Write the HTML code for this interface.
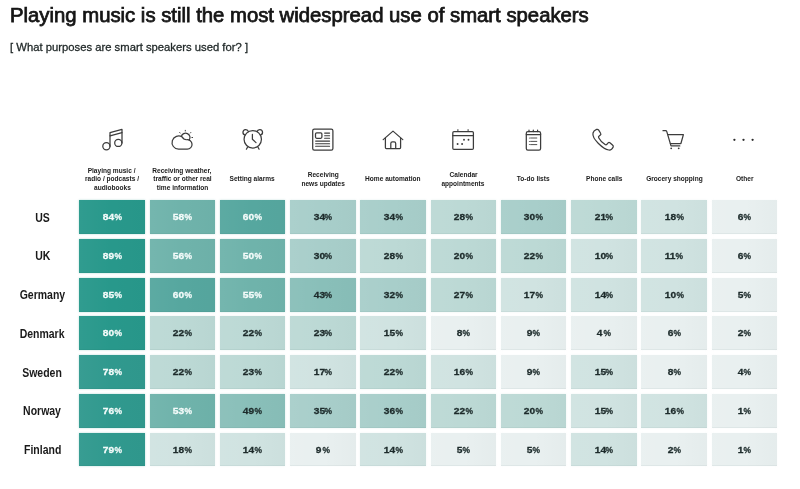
<!DOCTYPE html>
<html><head><meta charset="utf-8"><title>Smart speakers</title>
<style>
html,body{margin:0;padding:0;background:#fff;}
body{will-change:transform;width:800px;height:489px;position:relative;overflow:hidden;font-family:"Liberation Sans",sans-serif;color:#1a1a1a;}
.t{position:absolute;white-space:nowrap;transform-origin:0 0;}
#title{left:10.2px;top:3.2px;font-size:19.5px;font-weight:normal;-webkit-text-stroke:0.75px #151515;line-height:24px;color:#151515;transform:scaleX(1.041);}
#sub{left:9.8px;top:39.6px;font-size:11.5px;line-height:14px;color:#1e2626;-webkit-text-stroke:0.3px #1e2626;transform:scaleX(0.98);}
.c{position:absolute;width:65.50px;height:33.90px;background-image:linear-gradient(90deg,rgba(255,255,255,0.04),rgba(255,255,255,0) 50%,rgba(0,40,40,0.018));}
.c:after{content:'';position:absolute;left:0;right:0;bottom:0;height:1px;background:rgba(0,40,40,0.045);}
.v{position:absolute;left:1.0px;right:0;top:0;bottom:0;text-align:center;font-weight:bold;font-size:9.7px;line-height:34.10px;color:#1d2b2b;}
.v span{display:inline-block;transform:scaleX(1.05);-webkit-text-stroke:0.3px currentColor;}
.v span.p{transform:scaleX(0.87);margin-left:-0.1px;}
.w .v{color:#f4fbfa;}
.r{position:absolute;left:0;width:85px;text-align:center;font-weight:bold;font-size:12.2px;line-height:14px;color:#1a1a1a;}
.r span{display:inline-block;transform:scaleX(0.86);}
.l{position:absolute;width:90px;text-align:center;font-weight:bold;font-size:7.3px;line-height:8.5px;color:#202020;}
.l span{display:inline-block;transform:scaleX(0.9);white-space:nowrap;}
svg{position:absolute;left:0;top:0;}
</style></head><body>
<div class="t" id="title">Playing music is still the most widespread use of smart speakers</div>
<div class="t" id="sub">[ What purposes are smart speakers used for? ]</div>
<svg width="800" height="489" viewBox="0 0 800 489" fill="none" stroke="#3c3c3c" stroke-width="1.25" stroke-linecap="round" stroke-linejoin="round">
<!-- music -->
<g>
<circle cx="106.4" cy="146.3" r="3.6"/>
<circle cx="118.3" cy="142.9" r="3.6"/>
<path d="M110 146.3V132.7L122 129.4V142.9"/>
<path d="M110 135.9L122 132.6"/>
</g>
<!-- weather -->
<g>
<path d="M178.6 149.2A6.6 6.6 0 1 1 182.3 137.1Q183.3 139.6 186.6 139.75A4.75 4.75 0 1 1 187.3 149.2Z"/>
<path d="M181.32 136.59A4.4 4.4 0 1 1 189.19 140.14"/>
<path d="M179.7 132.5l0.4 0.5M185.3 130.3v0.7M190.8 132.5l-0.4 0.5M192.6 137.5h-0.7" stroke-width="1"/>
</g>
<!-- alarm -->
<g>
<circle cx="252.75" cy="139.3" r="8.7"/>
<path d="M245.2 135.0A2.75 2.75 0 1 1 248.4 131.7M260.3 135.0A2.75 2.75 0 1 0 257.1 131.7"/>
<path d="M252.4 134.4v4.9l3.6 3.3"/>
<path d="M247.5 147.2l-1.1 2M258 147.2l1.1 2"/>
</g>
<!-- news -->
<g>
<rect x="312.7" y="129.2" width="20.2" height="21" rx="1.6"/>
<rect x="315.5" y="132.9" width="6.4" height="5.4" rx="1.2"/>
<path d="M324.6 133.1h5M324.6 135.7h5M324.6 138.3h5M315.6 141.1h14M315.6 143.7h14M315.6 146.3h14" stroke-width="1.05"/>
</g>
<!-- home -->
<g>
<path d="M383.2 139.6L393 131.1L402.8 139.6"/>
<path d="M385.4 138v9.6a0.9 0.9 0 0 0 0.9 0.9h13.4a0.9 0.9 0 0 0 0.9-0.9V138"/>
<path d="M390.8 148.4v-5a1.6 1.6 0 0 1 1.6-1.6h1.7a1.6 1.6 0 0 1 1.6 1.6v5"/>
</g>
<!-- calendar -->
<g>
<rect x="452.8" y="131.5" width="20.6" height="17.9" rx="1.2"/>
<path d="M452.8 135.6h20.6"/>
<path d="M457.9 129.6v1.9M468.1 129.6v1.9" stroke-width="1"/>
<g fill="#3a3a3a" stroke="none"><circle cx="464" cy="139.7" r="0.95"/><circle cx="468.5" cy="139.7" r="0.95"/><circle cx="457.6" cy="144" r="0.95"/><circle cx="462.1" cy="144" r="0.95"/></g>
</g>
<!-- todo -->
<g>
<rect x="526.3" y="131.6" width="14.3" height="18.4" rx="1.6"/>
<path d="M526.3 134.5h14.3"/>
<path d="M529 130v1.6M533.3 130v1.6M537.6 130v1.6" stroke-width="1.2"/>
<path d="M530.6 138h6.2M530.6 141.4h6.2M530.6 144.6h6.2" stroke-width="0.9"/>
<g fill="#3a3a3a" stroke="none"><circle cx="529.4" cy="138" r="0.5"/><circle cx="529.4" cy="141.4" r="0.5"/><circle cx="529.4" cy="144.6" r="0.5"/></g>
</g>
<!-- phone -->
<g>
<path d="M596.6 129.4c-1.2 0.5-3.2 1.9-3.6 3.6c-0.5 2.2 1.2 6.2 5.2 10.2c4 4 8 6.4 10.600 6.800c1.9 0.300 3.700-1.500 4.400-3.000c0.400-0.900-0.100-1.500-0.700-2.000l-2.600-2.200c-0.600-0.500-1.300-0.400-1.800 0.100l-1.200 1.400c-0.500 0.500-1.200 0.600-1.800 0.200c-2.200-1.400-5.200-4.400-6.400-6.800c-0.300-0.600-0.200-1.300 0.400-1.700l1.300-1.000c0.500-0.400 0.600-1.100 0.200-1.700l-1.900-3.200c-0.500-0.700-1.300-1.000-2.100-0.700z"/>
</g>
<!-- cart -->
<g>
<path d="M663 130.700h2.600c0.600 0 1 0.300 1.200 0.900l4.200 14.300h8.800"/>
<path d="M667.900 134.700h15.500l-2.500 8.800h-10.500"/>
<g fill="#3a3a3a" stroke="none"><circle cx="671.2" cy="148.300" r="0.9"/><circle cx="678.7" cy="148.300" r="0.9"/></g>
</g>
<!-- other -->
<g fill="#2a2a2a" stroke="none"><circle cx="734.4" cy="139.800" r="1.15"/><circle cx="743.5" cy="139.800" r="1.15"/><circle cx="752.6" cy="139.800" r="1.15"/></g>
</svg>
<div class="l" style="left:67.05px;top:166.55px;line-height:8.5px"><span>Playing music /</span><br><span>radio / podcasts /</span><br><span>audiobooks</span></div>
<div class="l" style="left:137.30px;top:166.55px;line-height:8.5px"><span>Receiving weather,</span><br><span>traffic or other real</span><br><span>time information</span></div>
<div class="l" style="left:207.55px;top:175.05px;line-height:8.5px"><span>Setting alarms</span></div>
<div class="l" style="left:277.80px;top:170.30px;line-height:9.0px"><span>Receiving</span><br><span>news updates</span></div>
<div class="l" style="left:348.05px;top:175.05px;line-height:8.5px"><span>Home automation</span></div>
<div class="l" style="left:418.30px;top:170.30px;line-height:9.0px"><span>Calendar</span><br><span>appointments</span></div>
<div class="l" style="left:488.55px;top:175.05px;line-height:8.5px"><span>To-do lists</span></div>
<div class="l" style="left:558.80px;top:175.05px;line-height:8.5px"><span>Phone calls</span></div>
<div class="l" style="left:629.05px;top:175.05px;line-height:8.5px"><span>Grocery shopping</span></div>
<div class="l" style="left:699.30px;top:175.05px;line-height:8.5px"><span>Other</span></div>
<div class="r" style="top:210.60px"><span>US</span></div>
<div class="c w" style="left:79.30px;top:200.15px;background-color:rgb(40,152,139);box-shadow:0 0 2px rgba(40,152,139,0.35)"><div class="v"><span>84</span><span class="p">%</span></div></div>
<div class="c w" style="left:149.55px;top:200.15px;background-color:rgb(111,179,171);box-shadow:0 0 2px rgba(111,179,171,0.35)"><div class="v"><span>58</span><span class="p">%</span></div></div>
<div class="c w" style="left:219.80px;top:200.15px;background-color:rgb(86,167,159);box-shadow:0 0 2px rgba(86,167,159,0.35)"><div class="v"><span>60</span><span class="p">%</span></div></div>
<div class="c" style="left:290.05px;top:200.15px;background-color:rgb(168,206,202);box-shadow:0 0 2px rgba(168,206,202,0.35)"><div class="v"><span>34</span><span class="p">%</span></div></div>
<div class="c" style="left:360.30px;top:200.15px;background-color:rgb(168,206,202);box-shadow:0 0 2px rgba(168,206,202,0.35)"><div class="v"><span>34</span><span class="p">%</span></div></div>
<div class="c" style="left:430.55px;top:200.15px;background-color:rgb(188,217,213);box-shadow:0 0 2px rgba(188,217,213,0.35)"><div class="v"><span>28</span><span class="p">%</span></div></div>
<div class="c" style="left:500.80px;top:200.15px;background-color:rgb(168,206,202);box-shadow:0 0 2px rgba(168,206,202,0.35)"><div class="v"><span>30</span><span class="p">%</span></div></div>
<div class="c" style="left:571.05px;top:200.15px;background-color:rgb(188,217,213);box-shadow:0 0 2px rgba(188,217,213,0.35)"><div class="v"><span>21</span><span class="p">%</span></div></div>
<div class="c" style="left:641.30px;top:200.15px;background-color:rgb(208,227,225);box-shadow:0 0 2px rgba(208,227,225,0.35)"><div class="v"><span>18</span><span class="p">%</span></div></div>
<div class="c" style="left:711.55px;top:200.15px;background-color:rgb(233,240,240);box-shadow:0 0 2px rgba(233,240,240,0.35)"><div class="v"><span>6</span><span class="p">%</span></div></div>
<div class="r" style="top:249.33px"><span>UK</span></div>
<div class="c w" style="left:79.30px;top:238.88px;background-color:rgb(40,152,139);box-shadow:0 0 2px rgba(40,152,139,0.35)"><div class="v"><span>89</span><span class="p">%</span></div></div>
<div class="c w" style="left:149.55px;top:238.88px;background-color:rgb(111,179,171);box-shadow:0 0 2px rgba(111,179,171,0.35)"><div class="v"><span>56</span><span class="p">%</span></div></div>
<div class="c w" style="left:219.80px;top:238.88px;background-color:rgb(111,179,171);box-shadow:0 0 2px rgba(111,179,171,0.35)"><div class="v"><span>50</span><span class="p">%</span></div></div>
<div class="c" style="left:290.05px;top:238.88px;background-color:rgb(168,206,202);box-shadow:0 0 2px rgba(168,206,202,0.35)"><div class="v"><span>30</span><span class="p">%</span></div></div>
<div class="c" style="left:360.30px;top:238.88px;background-color:rgb(188,217,213);box-shadow:0 0 2px rgba(188,217,213,0.35)"><div class="v"><span>28</span><span class="p">%</span></div></div>
<div class="c" style="left:430.55px;top:238.88px;background-color:rgb(188,217,213);box-shadow:0 0 2px rgba(188,217,213,0.35)"><div class="v"><span>20</span><span class="p">%</span></div></div>
<div class="c" style="left:500.80px;top:238.88px;background-color:rgb(188,217,213);box-shadow:0 0 2px rgba(188,217,213,0.35)"><div class="v"><span>22</span><span class="p">%</span></div></div>
<div class="c" style="left:571.05px;top:238.88px;background-color:rgb(208,227,225);box-shadow:0 0 2px rgba(208,227,225,0.35)"><div class="v"><span>10</span><span class="p">%</span></div></div>
<div class="c" style="left:641.30px;top:238.88px;background-color:rgb(208,227,225);box-shadow:0 0 2px rgba(208,227,225,0.35)"><div class="v"><span>11</span><span class="p">%</span></div></div>
<div class="c" style="left:711.55px;top:238.88px;background-color:rgb(233,240,240);box-shadow:0 0 2px rgba(233,240,240,0.35)"><div class="v"><span>6</span><span class="p">%</span></div></div>
<div class="r" style="top:288.06px"><span>Germany</span></div>
<div class="c w" style="left:79.30px;top:277.61px;background-color:rgb(40,152,139);box-shadow:0 0 2px rgba(40,152,139,0.35)"><div class="v"><span>85</span><span class="p">%</span></div></div>
<div class="c w" style="left:149.55px;top:277.61px;background-color:rgb(86,167,159);box-shadow:0 0 2px rgba(86,167,159,0.35)"><div class="v"><span>60</span><span class="p">%</span></div></div>
<div class="c w" style="left:219.80px;top:277.61px;background-color:rgb(111,179,171);box-shadow:0 0 2px rgba(111,179,171,0.35)"><div class="v"><span>55</span><span class="p">%</span></div></div>
<div class="c" style="left:290.05px;top:277.61px;background-color:rgb(137,191,185);box-shadow:0 0 2px rgba(137,191,185,0.35)"><div class="v"><span>43</span><span class="p">%</span></div></div>
<div class="c" style="left:360.30px;top:277.61px;background-color:rgb(168,206,202);box-shadow:0 0 2px rgba(168,206,202,0.35)"><div class="v"><span>32</span><span class="p">%</span></div></div>
<div class="c" style="left:430.55px;top:277.61px;background-color:rgb(188,217,213);box-shadow:0 0 2px rgba(188,217,213,0.35)"><div class="v"><span>27</span><span class="p">%</span></div></div>
<div class="c" style="left:500.80px;top:277.61px;background-color:rgb(208,227,225);box-shadow:0 0 2px rgba(208,227,225,0.35)"><div class="v"><span>17</span><span class="p">%</span></div></div>
<div class="c" style="left:571.05px;top:277.61px;background-color:rgb(208,227,225);box-shadow:0 0 2px rgba(208,227,225,0.35)"><div class="v"><span>14</span><span class="p">%</span></div></div>
<div class="c" style="left:641.30px;top:277.61px;background-color:rgb(208,227,225);box-shadow:0 0 2px rgba(208,227,225,0.35)"><div class="v"><span>10</span><span class="p">%</span></div></div>
<div class="c" style="left:711.55px;top:277.61px;background-color:rgb(233,240,240);box-shadow:0 0 2px rgba(233,240,240,0.35)"><div class="v"><span>5</span><span class="p">%</span></div></div>
<div class="r" style="top:326.79px"><span>Denmark</span></div>
<div class="c w" style="left:79.30px;top:316.34px;background-color:rgb(40,152,139);box-shadow:0 0 2px rgba(40,152,139,0.35)"><div class="v"><span>80</span><span class="p">%</span></div></div>
<div class="c" style="left:149.55px;top:316.34px;background-color:rgb(188,217,213);box-shadow:0 0 2px rgba(188,217,213,0.35)"><div class="v"><span>22</span><span class="p">%</span></div></div>
<div class="c" style="left:219.80px;top:316.34px;background-color:rgb(188,217,213);box-shadow:0 0 2px rgba(188,217,213,0.35)"><div class="v"><span>22</span><span class="p">%</span></div></div>
<div class="c" style="left:290.05px;top:316.34px;background-color:rgb(188,217,213);box-shadow:0 0 2px rgba(188,217,213,0.35)"><div class="v"><span>23</span><span class="p">%</span></div></div>
<div class="c" style="left:360.30px;top:316.34px;background-color:rgb(208,227,225);box-shadow:0 0 2px rgba(208,227,225,0.35)"><div class="v"><span>15</span><span class="p">%</span></div></div>
<div class="c" style="left:430.55px;top:316.34px;background-color:rgb(233,240,240);box-shadow:0 0 2px rgba(233,240,240,0.35)"><div class="v"><span>8</span><span class="p">%</span></div></div>
<div class="c" style="left:500.80px;top:316.34px;background-color:rgb(233,240,240);box-shadow:0 0 2px rgba(233,240,240,0.35)"><div class="v"><span>9</span><span class="p">%</span></div></div>
<div class="c" style="left:571.05px;top:316.34px;background-color:rgb(233,240,240);box-shadow:0 0 2px rgba(233,240,240,0.35)"><div class="v"><span>4</span><span class="p">%</span></div></div>
<div class="c" style="left:641.30px;top:316.34px;background-color:rgb(233,240,240);box-shadow:0 0 2px rgba(233,240,240,0.35)"><div class="v"><span>6</span><span class="p">%</span></div></div>
<div class="c" style="left:711.55px;top:316.34px;background-color:rgb(233,240,240);box-shadow:0 0 2px rgba(233,240,240,0.35)"><div class="v"><span>2</span><span class="p">%</span></div></div>
<div class="r" style="top:365.52px"><span>Sweden</span></div>
<div class="c w" style="left:79.30px;top:355.07px;background-color:rgb(48,153,142);box-shadow:0 0 2px rgba(48,153,142,0.35)"><div class="v"><span>78</span><span class="p">%</span></div></div>
<div class="c" style="left:149.55px;top:355.07px;background-color:rgb(188,217,213);box-shadow:0 0 2px rgba(188,217,213,0.35)"><div class="v"><span>22</span><span class="p">%</span></div></div>
<div class="c" style="left:219.80px;top:355.07px;background-color:rgb(188,217,213);box-shadow:0 0 2px rgba(188,217,213,0.35)"><div class="v"><span>23</span><span class="p">%</span></div></div>
<div class="c" style="left:290.05px;top:355.07px;background-color:rgb(208,227,225);box-shadow:0 0 2px rgba(208,227,225,0.35)"><div class="v"><span>17</span><span class="p">%</span></div></div>
<div class="c" style="left:360.30px;top:355.07px;background-color:rgb(188,217,213);box-shadow:0 0 2px rgba(188,217,213,0.35)"><div class="v"><span>22</span><span class="p">%</span></div></div>
<div class="c" style="left:430.55px;top:355.07px;background-color:rgb(208,227,225);box-shadow:0 0 2px rgba(208,227,225,0.35)"><div class="v"><span>16</span><span class="p">%</span></div></div>
<div class="c" style="left:500.80px;top:355.07px;background-color:rgb(233,240,240);box-shadow:0 0 2px rgba(233,240,240,0.35)"><div class="v"><span>9</span><span class="p">%</span></div></div>
<div class="c" style="left:571.05px;top:355.07px;background-color:rgb(208,227,225);box-shadow:0 0 2px rgba(208,227,225,0.35)"><div class="v"><span>15</span><span class="p">%</span></div></div>
<div class="c" style="left:641.30px;top:355.07px;background-color:rgb(233,240,240);box-shadow:0 0 2px rgba(233,240,240,0.35)"><div class="v"><span>8</span><span class="p">%</span></div></div>
<div class="c" style="left:711.55px;top:355.07px;background-color:rgb(233,240,240);box-shadow:0 0 2px rgba(233,240,240,0.35)"><div class="v"><span>4</span><span class="p">%</span></div></div>
<div class="r" style="top:404.25px"><span>Norway</span></div>
<div class="c w" style="left:79.30px;top:393.80px;background-color:rgb(48,153,142);box-shadow:0 0 2px rgba(48,153,142,0.35)"><div class="v"><span>76</span><span class="p">%</span></div></div>
<div class="c w" style="left:149.55px;top:393.80px;background-color:rgb(111,179,171);box-shadow:0 0 2px rgba(111,179,171,0.35)"><div class="v"><span>53</span><span class="p">%</span></div></div>
<div class="c" style="left:219.80px;top:393.80px;background-color:rgb(137,191,185);box-shadow:0 0 2px rgba(137,191,185,0.35)"><div class="v"><span>49</span><span class="p">%</span></div></div>
<div class="c" style="left:290.05px;top:393.80px;background-color:rgb(168,206,202);box-shadow:0 0 2px rgba(168,206,202,0.35)"><div class="v"><span>35</span><span class="p">%</span></div></div>
<div class="c" style="left:360.30px;top:393.80px;background-color:rgb(168,206,202);box-shadow:0 0 2px rgba(168,206,202,0.35)"><div class="v"><span>36</span><span class="p">%</span></div></div>
<div class="c" style="left:430.55px;top:393.80px;background-color:rgb(188,217,213);box-shadow:0 0 2px rgba(188,217,213,0.35)"><div class="v"><span>22</span><span class="p">%</span></div></div>
<div class="c" style="left:500.80px;top:393.80px;background-color:rgb(188,217,213);box-shadow:0 0 2px rgba(188,217,213,0.35)"><div class="v"><span>20</span><span class="p">%</span></div></div>
<div class="c" style="left:571.05px;top:393.80px;background-color:rgb(208,227,225);box-shadow:0 0 2px rgba(208,227,225,0.35)"><div class="v"><span>15</span><span class="p">%</span></div></div>
<div class="c" style="left:641.30px;top:393.80px;background-color:rgb(208,227,225);box-shadow:0 0 2px rgba(208,227,225,0.35)"><div class="v"><span>16</span><span class="p">%</span></div></div>
<div class="c" style="left:711.55px;top:393.80px;background-color:rgb(233,240,240);box-shadow:0 0 2px rgba(233,240,240,0.35)"><div class="v"><span>1</span><span class="p">%</span></div></div>
<div class="r" style="top:442.98px"><span>Finland</span></div>
<div class="c w" style="left:79.30px;top:432.53px;background-color:rgb(48,153,142);box-shadow:0 0 2px rgba(48,153,142,0.35)"><div class="v"><span>79</span><span class="p">%</span></div></div>
<div class="c" style="left:149.55px;top:432.53px;background-color:rgb(208,227,225);box-shadow:0 0 2px rgba(208,227,225,0.35)"><div class="v"><span>18</span><span class="p">%</span></div></div>
<div class="c" style="left:219.80px;top:432.53px;background-color:rgb(208,227,225);box-shadow:0 0 2px rgba(208,227,225,0.35)"><div class="v"><span>14</span><span class="p">%</span></div></div>
<div class="c" style="left:290.05px;top:432.53px;background-color:rgb(233,240,240);box-shadow:0 0 2px rgba(233,240,240,0.35)"><div class="v"><span>9</span><span class="p">%</span></div></div>
<div class="c" style="left:360.30px;top:432.53px;background-color:rgb(208,227,225);box-shadow:0 0 2px rgba(208,227,225,0.35)"><div class="v"><span>14</span><span class="p">%</span></div></div>
<div class="c" style="left:430.55px;top:432.53px;background-color:rgb(233,240,240);box-shadow:0 0 2px rgba(233,240,240,0.35)"><div class="v"><span>5</span><span class="p">%</span></div></div>
<div class="c" style="left:500.80px;top:432.53px;background-color:rgb(233,240,240);box-shadow:0 0 2px rgba(233,240,240,0.35)"><div class="v"><span>5</span><span class="p">%</span></div></div>
<div class="c" style="left:571.05px;top:432.53px;background-color:rgb(208,227,225);box-shadow:0 0 2px rgba(208,227,225,0.35)"><div class="v"><span>14</span><span class="p">%</span></div></div>
<div class="c" style="left:641.30px;top:432.53px;background-color:rgb(233,240,240);box-shadow:0 0 2px rgba(233,240,240,0.35)"><div class="v"><span>2</span><span class="p">%</span></div></div>
<div class="c" style="left:711.55px;top:432.53px;background-color:rgb(233,240,240);box-shadow:0 0 2px rgba(233,240,240,0.35)"><div class="v"><span>1</span><span class="p">%</span></div></div>
</body></html>
